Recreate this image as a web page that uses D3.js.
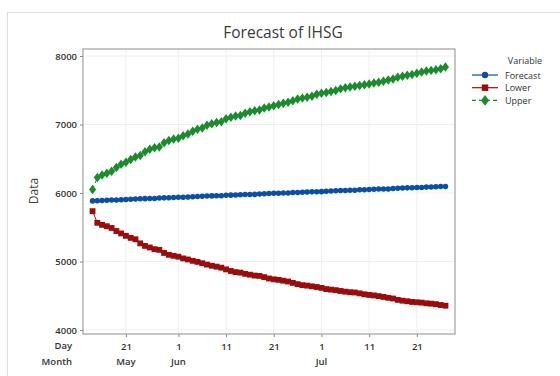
<!DOCTYPE html>
<html>
<head>
<meta charset="utf-8">
<script src="https://cdn.jsdelivr.net/npm/d3@7"></script>
<style>
	body { margin: 0; background: #fff; }
	svg text { font-family: 'Open Sans', 'Noto Sans', sans-serif; }
</style>
</head>
<body>
<div id="chart"></div>
<script>
// ---- data -------------------------------------------------------------
const START_DATE = '2021-05-14' // first forecast day, one point per day

const forecast = [
	5885, 5888, 5891, 5894, 5897, 5898, 5900,
	5906, 5909, 5912, 5915, 5918, 5919, 5920,
	5926, 5929, 5932, 5935, 5938, 5939, 5940,
	5946, 5949, 5952, 5955, 5958, 5959, 5960,
	5966, 5969, 5972, 5975, 5978, 5979, 5980,
	5986, 5989, 5992, 5995, 5998, 5999, 6000,
	6006, 6009, 6012, 6015, 6018, 6019, 6020,
	6026, 6029, 6032, 6035, 6038, 6039, 6040,
	6046, 6049, 6052, 6055, 6058, 6059, 6060,
	6066, 6069, 6072, 6075, 6078, 6079, 6080,
	6086, 6089, 6092, 6094, 6096,
]

const lower = [
	5735, 5565, 5535, 5515, 5490, 5445, 5410,
	5375, 5345, 5325, 5265, 5228, 5205, 5180,
	5170, 5125, 5098, 5083, 5070, 5045, 5030,
	5010, 4995, 4975, 4955, 4938, 4925, 4910,
	4885, 4862, 4845, 4838, 4820, 4808, 4795,
	4790, 4772, 4752, 4740, 4732, 4720, 4708,
	4688, 4670, 4655, 4648, 4638, 4628, 4615,
	4598, 4590, 4582, 4570, 4560, 4552, 4548,
	4535, 4522, 4512, 4505, 4495, 4483, 4470,
	4460, 4440, 4428, 4420, 4410, 4405, 4400,
	4390, 4385, 4378, 4365, 4355,
]

const upper = [
	6050, 6225, 6262, 6290, 6318, 6372, 6420,
	6448, 6490, 6525, 6548, 6602, 6640, 6660,
	6672, 6735, 6765, 6790, 6800, 6835, 6860,
	6900, 6930, 6950, 6990, 7012, 7028, 7040,
	7085, 7105, 7125, 7132, 7165, 7185, 7200,
	7212, 7240, 7255, 7272, 7292, 7310, 7325,
	7345, 7372, 7385, 7398, 7412, 7440, 7455,
	7468, 7480, 7495, 7520, 7535, 7548, 7560,
	7570, 7580, 7592, 7605, 7618, 7632, 7650,
	7665, 7690, 7705, 7718, 7730, 7748, 7765,
	7780, 7790, 7800, 7815, 7840,
]

const yTicks = [4000, 5000, 6000, 7000, 8000]
const dayTicks = ['2021-05-21', '2021-06-01', '2021-06-11', '2021-06-21', '2021-07-01', '2021-07-11', '2021-07-21']
const dayLabels = ['21', '1', '11', '21', '1', '11', '21']
const monthLabels = ['May', 'Jun', '', '', 'Jul', '', '']

const seriesNames = ['Forecast', 'Lower', 'Upper']
const seriesColors = ['#0a4fa3', '#9b0d0d', '#1a8c2b']

// ---- layout -----------------------------------------------------------
const width = 560
const height = 376
const plot = { left: 83, top: 49, right: 455, bottom: 334 }

const parse = d3.utcParse('%Y-%m-%d')
const start = parse(START_DATE)
const dates = forecast.map((_, i) => d3.utcDay.offset(start, i))

const svg = d3.select('#chart').append('svg').attr('width', width).attr('height', height)

// outer frame
svg.append('rect')
	.attr('x', 7.5).attr('y', 12.5)
	.attr('width', 560).attr('height', 380)
	.attr('fill', 'none').attr('stroke', '#dcdcdc')

const xScale = d3.scaleUtc()
	.domain([d3.utcDay.offset(start, -2), d3.utcDay.offset(dates[dates.length - 1], 2)])
	.range([plot.left, plot.right])

const yScale = d3.scaleLinear().domain([3942, 8102]).range([plot.bottom, plot.top])

// gridlines
const grid = svg.append('g').attr('id', 'grid')
grid.selectAll('line.gy')
	.data(yTicks)
	.join('line')
	.attr('x1', plot.left).attr('x2', plot.right)
	.attr('y1', d => yScale(d)).attr('y2', d => yScale(d))
	.attr('stroke', '#efefef')
grid.selectAll('line.gx')
	.data(dayTicks)
	.join('line')
	.attr('y1', plot.top).attr('y2', plot.bottom)
	.attr('x1', d => xScale(parse(d))).attr('x2', d => xScale(parse(d)))
	.attr('stroke', '#efefef')

// y axis
const yAxis = svg.append('g')
	.attr('transform', `translate(${plot.left},0)`)
	.call(d3.axisLeft(yScale).tickValues(yTicks).tickSize(3).tickPadding(3).tickFormat(d3.format('d')))
yAxis.select('.domain').remove()
yAxis.selectAll('line').attr('stroke', '#888')
yAxis.selectAll('text').attr('font-size', 9.5).attr('font-weight', 600).attr('fill', '#333')

// x axis (day row)
const xAxis = svg.append('g')
	.attr('transform', `translate(0,${plot.bottom})`)
	.call(d3.axisBottom(xScale).tickValues(dayTicks.map(parse)).tickSize(3).tickPadding(6)
		.tickFormat((d, i) => dayLabels[i]))
xAxis.select('.domain').remove()
xAxis.selectAll('line').attr('stroke', '#888')
xAxis.selectAll('text').attr('font-size', 9.5).attr('font-weight', 600).attr('fill', '#333')

// month row
svg.append('g')
	.selectAll('text')
	.data(dayTicks)
	.join('text')
	.attr('x', d => xScale(parse(d)))
	.attr('y', 365)
	.attr('text-anchor', 'middle')
	.attr('font-size', 9.5)
	.attr('font-weight', 600)
	.attr('fill', '#333')
	.text((d, i) => monthLabels[i])

svg.append('text').attr('x', 72).attr('y', 349).attr('text-anchor', 'end')
	.attr('font-size', 9.5).attr('font-weight', 600).attr('fill', '#333').text('Day')
svg.append('text').attr('x', 72).attr('y', 365).attr('text-anchor', 'end')
	.attr('font-size', 9.5).attr('font-weight', 600).attr('fill', '#333').text('Month')

// plot frame
svg.append('rect')
	.attr('x', plot.left).attr('y', plot.top)
	.attr('width', plot.right - plot.left).attr('height', plot.bottom - plot.top)
	.attr('fill', 'none').attr('stroke', '#a0a0a0').attr('stroke-width', 1.2)

// title + y label
svg.append('text').attr('x', 283).attr('y', 38).attr('text-anchor', 'middle')
	.attr('font-size', 15.5).attr('fill', '#3a3a3a').text('Forecast of IHSG')
svg.append('text')
	.attr('transform', 'translate(38,191) rotate(-90)')
	.attr('text-anchor', 'middle').attr('font-size', 12).attr('fill', '#444').text('Data')

// ---- series -----------------------------------------------------------
const content = svg.append('g').attr('id', 'content')
const line = d3.line().x((d, i) => xScale(dates[i])).y(d => yScale(d))
const allSeries = [forecast, lower, upper]
const symbols = [d3.symbolCircle, d3.symbolSquare, d3.symbolDiamond]
const symbolSizes = [24, 34, 26]

allSeries.forEach((values, s) => {
	content.append('path')
		.datum(values)
		.attr('d', line)
		.attr('fill', 'none')
		.attr('stroke', seriesColors[s])
		.attr('stroke-width', 1)
		.attr('stroke-dasharray', s === 2 ? '4,3' : null)

	content.append('g')
		.selectAll('path')
		.data(values)
		.join('path')
		.attr('transform', (d, i) => `translate(${xScale(dates[i])},${yScale(d)})` + (s === 2 ? ' scale(1.3,1)' : ''))
		.attr('d', d3.symbol().type(symbols[s]).size(symbolSizes[s]))
		.attr('fill', seriesColors[s])
})

// ---- legend -----------------------------------------------------------
const legend = svg.append('g').attr('id', 'legend')
legend.append('text').attr('x', 542).attr('y', 64).attr('text-anchor', 'end')
	.attr('font-size', 9).attr('fill', '#333').text('Variable')

const entries = legend.selectAll('g.entry')
	.data(seriesNames)
	.join('g')
	.attr('transform', (d, i) => `translate(0,${75 + i * 12.7})`)

entries.append('line')
	.attr('x1', 472).attr('x2', 498).attr('y1', 0).attr('y2', 0)
	.attr('stroke', (d, i) => seriesColors[i])
	.attr('stroke-width', 1.2)
	.attr('stroke-dasharray', (d, i) => (i === 2 ? '4,3' : null))
entries.append('path')
	.attr('transform', (d, i) => 'translate(485,0)' + (i === 2 ? ' scale(1.3,1)' : ''))
	.attr('d', (d, i) => d3.symbol().type(symbols[i]).size(symbolSizes[i] + 8)())
	.attr('fill', (d, i) => seriesColors[i])
entries.append('text')
	.attr('x', 505).attr('y', 3.5)
	.attr('font-size', 9).attr('fill', '#333')
	.text(d => d)
</script>
</body>
</html>
